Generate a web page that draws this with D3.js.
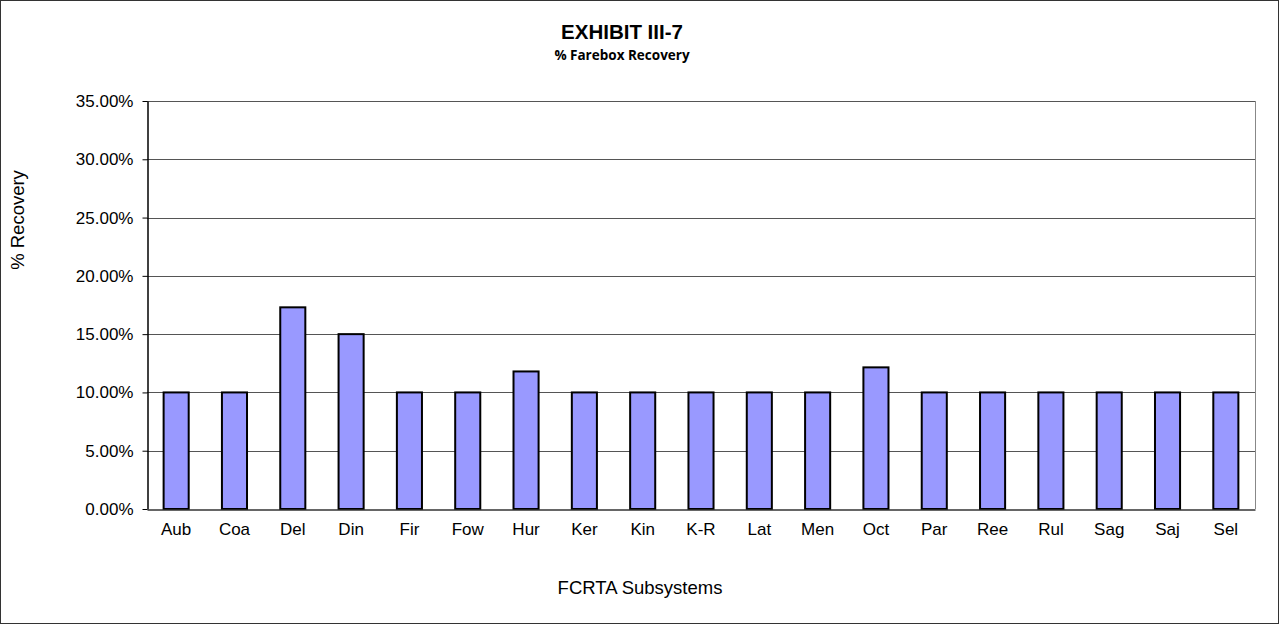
<!DOCTYPE html>
<html><head><meta charset="utf-8">
<script src="https://cdn.jsdelivr.net/npm/d3@7"></script>
<style>body{margin:0;background:#fff}svg{display:block}</style>
</head><body>
<svg id="c" width="1279" height="624"></svg>
<script>
const categories = ["Aub","Coa","Del","Din","Fir","Fow","Hur","Ker","Kin","K-R","Lat","Men","Oct","Par","Ree","Rul","Sag","Saj","Sel"];
const recovery = [0.10,0.10,0.173,0.150,0.10,0.10,0.118,0.10,0.10,0.10,0.10,0.10,0.1215,0.10,0.10,0.10,0.10,0.10,0.10];
const yTicks = [0,0.05,0.10,0.15,0.20,0.25,0.30,0.35];

const svg = d3.select("#c");
const W = 1279, H = 624;
const m = {left:147, right:1255, top:101, bottom:509};
const FONT = "Liberation Sans, Arial, sans-serif";

svg.append("rect").attr("x",0.5).attr("y",0.5).attr("width",W-1).attr("height",H-1)
  .attr("fill","#fff").attr("stroke","#333").attr("stroke-width",1);

const x = d3.scaleBand().domain(categories).range([m.left,m.right]).paddingInner(0.57).paddingOuter(0.285);
const y = d3.scaleLinear().domain([0,0.35]).range([m.bottom,m.top]);

// gridlines
svg.append("g").selectAll("line").data(yTicks.filter(d=>d>0)).join("line")
  .attr("x1",m.left).attr("x2",m.right).attr("y1",d=>Math.round(y(d))+0.5).attr("y2",d=>Math.round(y(d))+0.5)
  .attr("stroke","#555").attr("stroke-width",1);
// right border of plot
svg.append("line").attr("x1",m.right+0.5).attr("x2",m.right+0.5).attr("y1",m.top).attr("y2",m.bottom)
  .attr("stroke","#888").attr("stroke-width",1);

// bars
svg.append("g").selectAll("rect").data(categories).join("rect")
  .attr("x",d=>x(d)).attr("width",x.bandwidth())
  .attr("y",(d,i)=>y(recovery[i])).attr("height",(d,i)=>y(0)-y(recovery[i]))
  .attr("fill","#9999FF").attr("stroke","#000").attr("stroke-width",2);

// y axis
const yAxis = d3.axisLeft(y).tickValues(yTicks).tickFormat(d3.format(".2%")).tickSize(5).tickSizeOuter(0);
const gy = svg.append("g").attr("transform",`translate(${m.left+0.5},0)`).call(yAxis);
gy.select(".domain").attr("stroke","#000").attr("stroke-width",1.5);
gy.selectAll(".tick line").attr("stroke","#000");
gy.selectAll(".tick text").attr("font-family",FONT).attr("font-size",17).attr("fill","#000").attr("x",-14);

// x axis
const xAxis = d3.axisBottom(x).tickSize(0).tickSizeOuter(0);
const gx = svg.append("g").attr("transform",`translate(0,${m.bottom+0.5})`).call(xAxis);
gx.select(".domain").attr("stroke","#333").attr("stroke-width",1.5);
gx.selectAll(".tick text").attr("font-family",FONT).attr("font-size",17).attr("fill","#000").attr("y",25).attr("dy",0);

// titles
svg.append("text").attr("x",622).attr("y",39).attr("text-anchor","middle")
  .attr("font-family",FONT).attr("font-weight","bold").attr("font-size",20.5).text("EXHIBIT III-7");
svg.append("text").attr("x",622).attr("y",60).attr("text-anchor","middle")
  .attr("font-family","Open Sans, Carlito, sans-serif").attr("font-weight","bold").attr("font-size",13.5).text("% Farebox Recovery");
svg.append("text").attr("x",640).attr("y",594).attr("text-anchor","middle")
  .attr("font-family",FONT).attr("font-size",18.5).text("FCRTA Subsystems");
svg.append("text").attr("transform","translate(24,220) rotate(-90)").attr("text-anchor","middle")
  .attr("font-family",FONT).attr("font-size",18.5).text("% Recovery");
</script>
</body></html>
